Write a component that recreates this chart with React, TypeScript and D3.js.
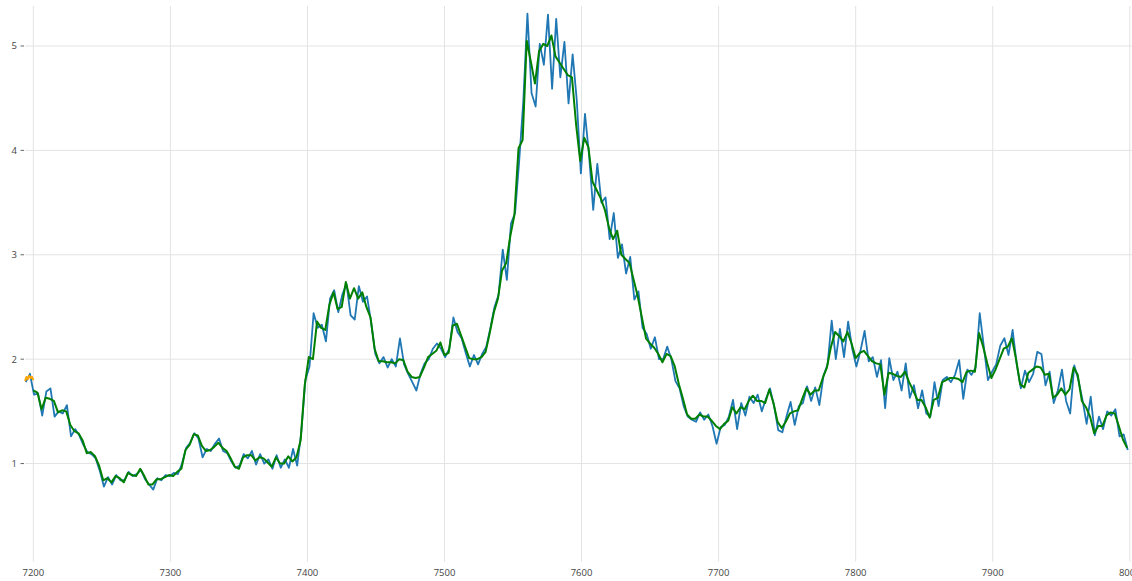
import React from "react";
import * as d3 from "d3";

const W = 1132;
const H = 581;

// x ticks and y ticks
const xTicks = [7200, 7300, 7400, 7500, 7600, 7700, 7800, 7900, 8000];
const yTicks = [1, 2, 3, 4, 5];

// orange history segment: x = 7194 + i
const orangeStart = 7194;
const orangeStep = 1;
const orangeValues = [1.79, 1.83, 1.81, 1.84, 1.82, 1.83, 1.8];

// green (smoothed) series: x = 7200 + 3 i
const greenStart = 7200;
const greenStep = 3;
const greenValues = [
  1.7, 1.68, 1.52, 1.63, 1.62, 1.6, 1.49, 1.51, 1.5, 1.37,
  1.31, 1.29, 1.22, 1.1, 1.11, 1.07, 0.98, 0.84, 0.86, 0.82,
  0.88, 0.86, 0.82, 0.91, 0.89, 0.88, 0.95, 0.88, 0.8, 0.8,
  0.85, 0.85, 0.87, 0.89, 0.88, 0.92, 0.95, 1.13, 1.18, 1.28,
  1.27, 1.17, 1.12, 1.13, 1.16, 1.2, 1.15, 1.12, 1.05, 0.97,
  0.95, 1.06, 1.08, 1.08, 1.03, 1.06, 1.05, 1.01, 0.97, 1.06,
  1.0, 1.0, 1.07, 1.02, 1.06, 1.22, 1.75, 2.02, 2.0, 2.36,
  2.3, 2.28, 2.52, 2.64, 2.48, 2.5, 2.74, 2.58, 2.68, 2.58,
  2.64, 2.5, 2.4, 2.1, 1.98, 1.98, 1.97, 1.97, 1.96, 2.0,
  1.99, 1.88, 1.83, 1.82, 1.83, 1.92, 2.02, 2.05, 2.08, 2.16,
  2.04, 2.06, 2.32, 2.34, 2.23, 2.12, 2.01, 2.0, 2.0, 2.02,
  2.07, 2.25, 2.45, 2.58, 2.85, 2.92, 3.18, 3.38, 4.02, 4.1,
  5.05, 4.85, 4.64, 4.95, 5.02, 5.0, 5.1, 4.9, 4.84, 4.78,
  4.72, 4.7, 4.25, 3.9, 4.12, 4.03, 3.7, 3.62, 3.54, 3.43,
  3.26, 3.15, 3.23, 3.0, 2.96, 2.92, 2.76, 2.6, 2.4, 2.2,
  2.15, 2.11, 2.05, 1.97, 2.05, 2.03, 1.93, 1.76, 1.62, 1.47,
  1.43, 1.43, 1.47, 1.45, 1.45, 1.41, 1.36, 1.33, 1.38, 1.41,
  1.54, 1.48, 1.54, 1.52, 1.6, 1.65, 1.6, 1.6, 1.58, 1.71,
  1.58, 1.4, 1.34, 1.4, 1.48, 1.5, 1.51, 1.62, 1.72, 1.66,
  1.7, 1.7, 1.82, 1.92, 2.12, 2.26, 2.22, 2.17, 2.26, 2.15,
  2.01, 2.06, 2.08, 2.03, 1.98, 1.96, 1.95, 1.66, 1.87, 1.86,
  1.84, 1.83, 1.88, 1.78, 1.7, 1.61, 1.61, 1.54, 1.44, 1.61,
  1.63, 1.78, 1.8, 1.82, 1.82, 1.81, 1.78, 1.88, 1.89, 1.88,
  2.25, 2.12, 1.96, 1.82, 1.9, 2.0, 2.1, 2.12, 2.2, 2.0,
  1.76, 1.73, 1.87, 1.9, 1.93, 1.92, 1.85, 1.86, 1.63, 1.66,
  1.72, 1.66, 1.71, 1.92, 1.85, 1.6, 1.54, 1.45, 1.29, 1.36,
  1.36, 1.46, 1.49, 1.48, 1.36, 1.23, 1.15,
];

// blue (observed) series: x = 7194.5 + 3 i
const blueStart = 7194.5;
const blueStep = 3;
const blueValues = [
  1.78, 1.86, 1.66, 1.67, 1.46, 1.69, 1.72, 1.45, 1.5, 1.48,
  1.56, 1.26, 1.33, 1.27, 1.18, 1.11, 1.09, 1.05, 0.93, 0.78,
  0.87, 0.8, 0.89, 0.84, 0.84, 0.92, 0.88, 0.9, 0.94, 0.85,
  0.8, 0.75, 0.86, 0.84, 0.89, 0.88, 0.91, 0.9, 1.0, 1.15,
  1.2, 1.29, 1.24, 1.06, 1.14, 1.12, 1.19, 1.24, 1.12, 1.1,
  1.02, 0.96, 0.98, 1.09, 1.05, 1.12, 0.99, 1.09, 1.0, 1.04,
  0.95, 1.08, 0.96, 1.04, 0.96, 1.14, 0.98, 1.3, 1.8, 1.93,
  2.44, 2.3, 2.33, 2.17, 2.58, 2.66, 2.45, 2.62, 2.72, 2.42,
  2.38, 2.7, 2.55, 2.6, 2.35, 2.05, 1.96, 2.02, 1.92, 2.0,
  1.93, 2.2, 1.95, 1.86, 1.78, 1.7, 1.86, 1.96, 2.0, 2.1,
  2.15, 2.1, 2.02, 2.1, 2.4, 2.26, 2.2, 2.06, 1.93, 2.04,
  1.95, 2.05, 2.12, 2.3, 2.5, 2.62, 3.05, 2.76, 3.3, 3.4,
  3.9, 4.47, 5.31, 4.55, 4.42, 5.02, 4.82, 5.3, 4.59, 5.26,
  4.7, 5.04, 4.45, 4.92, 4.48, 3.78, 4.35, 3.95, 3.43, 3.87,
  3.5, 3.55, 3.15, 3.4, 2.97, 3.1, 2.82, 2.98, 2.57, 2.65,
  2.3, 2.24, 2.1, 2.21, 2.0, 2.0, 2.12, 2.0, 1.79, 1.72,
  1.55, 1.45, 1.42, 1.4, 1.49, 1.42, 1.47, 1.36, 1.19, 1.35,
  1.37, 1.45, 1.61, 1.33, 1.58, 1.46, 1.64, 1.58, 1.66, 1.5,
  1.62, 1.72, 1.55, 1.32, 1.3, 1.45, 1.59, 1.37, 1.55, 1.58,
  1.74, 1.6, 1.73, 1.56, 1.84, 1.95, 2.37, 2.0, 2.29, 2.02,
  2.36, 2.1, 1.93, 2.08, 2.27, 1.98, 2.02, 1.83, 1.99, 1.53,
  2.01, 1.8, 1.88, 1.7, 1.96, 1.63, 1.75, 1.53, 1.7, 1.48,
  1.45, 1.78, 1.55, 1.8, 1.83, 1.78, 1.85, 1.99, 1.62, 1.9,
  1.85, 1.92, 2.44, 2.12, 1.8, 1.88, 1.95, 2.13, 2.2, 2.04,
  2.28, 1.95, 1.72, 1.89, 1.78, 1.86, 2.07, 2.05, 1.75, 1.88,
  1.58, 1.7, 1.9, 1.6, 1.48, 1.94, 1.8, 1.61, 1.38, 1.64,
  1.27, 1.45, 1.33, 1.5, 1.46, 1.52, 1.26, 1.28, 1.13,
];

type Pt = [number, number];
const toPts = (start: number, step: number, vals: number[]): Pt[] =>
  vals.map((v, i) => [start + i * step, v]);

export default function App() {
  const plotLeft = 25.1;
  const plotRight = W;
  const plotTop = 6;
  const plotBottom = 561.7;

  const x = d3.scaleLinear().domain([7194, 8000]).range([25.1, 1129.8]);
  const y = d3.scaleLinear().domain([0.06, 5.383]).range([561.7, 6]);

  const line = d3
    .line<Pt>()
    .x((d) => x(d[0]))
    .y((d) => y(d[1]));

  const blue = toPts(blueStart, blueStep, blueValues);
  const green = toPts(greenStart, greenStep, greenValues);
  const orange = toPts(orangeStart, orangeStep, orangeValues);

  const font = "'Open Sans', 'Noto Sans', sans-serif";

  return (
    <svg
      width={W}
      height={H}
      style={{ position: "absolute", left: 0, top: 0, background: "#fff" }}
    >
      <defs>
        <clipPath id="plotclip">
          <rect x={plotLeft - 3} y={plotTop - 2} width={plotRight - plotLeft + 3} height={plotBottom - plotTop + 4} />
        </clipPath>
      </defs>
      {/* grid */}
      {xTicks.map((t) => (
        <line
          key={"gx" + t}
          x1={x(t)}
          x2={x(t)}
          y1={plotTop}
          y2={plotBottom}
          stroke="#e3e3e3"
          strokeWidth={1}
        />
      ))}
      {yTicks.map((t) => (
        <line
          key={"gy" + t}
          x1={plotLeft}
          x2={plotRight}
          y1={y(t)}
          y2={y(t)}
          stroke="#e3e3e3"
          strokeWidth={1}
        />
      ))}
      {/* y ticks */}
      {yTicks.map((t) => (
        <g key={"ty" + t}>
          <line x1={20.5} x2={24} y1={y(t)} y2={y(t)} stroke="#666" strokeWidth={1} />
          <text
            x={17}
            y={y(t)}
            textAnchor="end"
            dominantBaseline="central"
            fontSize={9.5}
            fontFamily={font}
            fill="#444"
          >
            {t}
          </text>
        </g>
      ))}
      {/* x tick labels */}
      {xTicks.map((t) => (
        <text
          key={"tx" + t}
          x={x(t)}
          y={572}
          textAnchor="middle"
          dominantBaseline="central"
          fontSize={9.5}
          fontFamily={font}
          fill="#444"
        >
          {t}
        </text>
      ))}
      <g clipPath="url(#plotclip)">
        <path d={line(blue) || ""} fill="none" stroke="#1f77b4" strokeWidth={1.8} strokeLinejoin="round" />
        <path d={line(orange) || ""} fill="none" stroke="#ffa500" strokeWidth={2} strokeLinejoin="round" />
        <path d={line(green) || ""} fill="none" stroke="#008000" strokeWidth={2} strokeLinejoin="round" />
      </g>
    </svg>
  );
}
